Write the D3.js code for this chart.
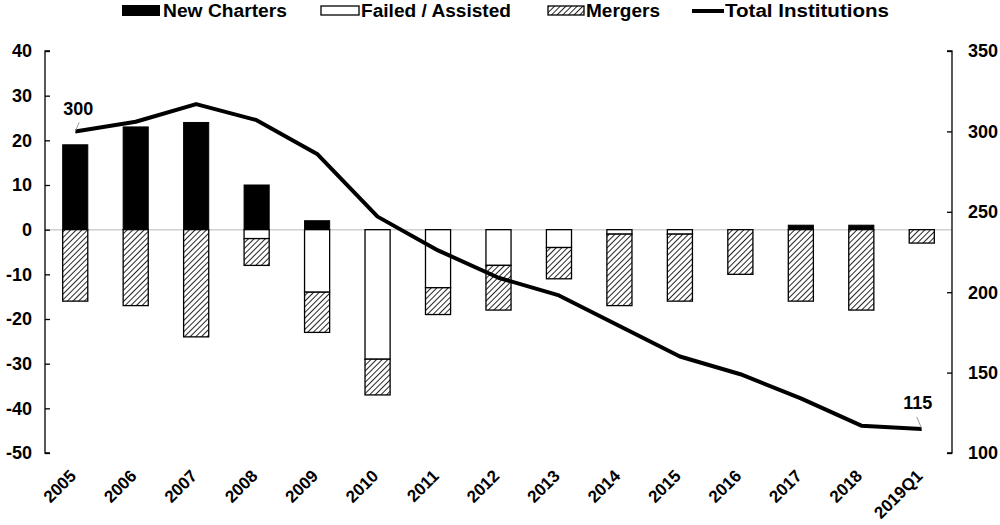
<!DOCTYPE html>
<html><head><meta charset="utf-8">
<script src="https://cdn.jsdelivr.net/npm/d3@7"></script>
<style>body{margin:0;background:#fff;} text{font-family:"Liberation Sans",Arial,sans-serif;font-weight:bold;}</style>
</head><body><svg id="c" width="1000" height="525"></svg>
<script>
const categories = ["2005","2006","2007","2008","2009","2010","2011","2012","2013","2014","2015","2016","2017","2018","2019Q1"];
const newCharters = [19,23,24,10,2,0,0,0,0,0,0,0,1,1,0];
const failedAssisted = [0,0,0,-2,-14,-29,-13,-8,-4,-1,-1,0,0,0,0];
const mergers = [-16,-17,-24,-6,-9,-8,-6,-10,-7,-16,-15,-10,-16,-18,-3];
const totalInstitutions = [300,306,317,307,286,247,226,209,198,179,160,149,134,117,115];
const leftTicks = [40,30,20,10,0,-10,-20,-30,-40,-50];
const rightTicks = [350,300,250,200,150,100];

const svg = d3.select("#c");
const L = 45, R = 952, T = 51, B = 453;
const x = d3.scaleBand().domain(categories).range([L, R]).paddingInner(0.585).paddingOuter(0.2925);
const y = d3.scaleLinear().domain([-50, 40]).range([B, T]);
const y2 = d3.scaleLinear().domain([100, 350]).range([B, T]);

const defs = svg.append("defs");
const pat = defs.append("pattern").attr("id","hatch").attr("patternUnits","userSpaceOnUse")
  .attr("width",4).attr("height",4).attr("patternTransform","rotate(45)");
pat.append("rect").attr("width",4).attr("height",4).attr("fill","#fff");
pat.append("line").attr("x1",0).attr("y1",0).attr("x2",0).attr("y2",4).attr("stroke","#000").attr("stroke-width",1.7);

// zero line
svg.append("line").attr("x1",L).attr("x2",R).attr("y1",y(0)).attr("y2",y(0)).attr("stroke","#d0d0d0").attr("stroke-width",1.5);

// bars
const g = svg.append("g");
g.selectAll(".nc").data(categories).join("rect")
  .attr("x",d=>x(d)).attr("width",x.bandwidth())
  .attr("y",(d,i)=>y(newCharters[i])).attr("height",(d,i)=>y(0)-y(newCharters[i]))
  .attr("fill","#000").attr("stroke","#000").attr("stroke-width",1)
  .style("display",(d,i)=>newCharters[i]===0?"none":null);
g.selectAll(".fa").data(categories).join("rect")
  .attr("x",d=>x(d)).attr("width",x.bandwidth())
  .attr("y",y(0)).attr("height",(d,i)=>y(failedAssisted[i])-y(0))
  .attr("fill","#fff").attr("stroke","#000").attr("stroke-width",1.3)
  .style("display",(d,i)=>failedAssisted[i]===0?"none":null);
g.selectAll(".mg").data(categories).join("rect")
  .attr("x",d=>x(d)).attr("width",x.bandwidth())
  .attr("y",(d,i)=>y(failedAssisted[i]))
  .attr("height",(d,i)=>y(failedAssisted[i]+mergers[i])-y(failedAssisted[i]))
  .attr("fill","url(#hatch)").attr("stroke","#000").attr("stroke-width",1.3);

// line
const line = d3.line().x((d,i)=>x(categories[i])+x.bandwidth()/2).y(d=>y2(d));
svg.append("path").datum(totalInstitutions).attr("d",line)
  .attr("fill","none").attr("stroke","#000").attr("stroke-width",4).attr("stroke-linejoin","round");

// axes
const ax = svg.append("g").attr("transform",`translate(${L},0)`)
  .call(d3.axisRight(y).tickValues(leftTicks).tickSize(5).tickFormat(""));
ax.select(".domain").attr("d",`M5,${T}H0V${B}H5`).attr("stroke","#000").attr("stroke-width",1.3);
ax.selectAll(".tick line").attr("stroke","#000").attr("stroke-width",1.3);
svg.append("g").selectAll("text").data(leftTicks).join("text")
  .attr("x",32).attr("y",d=>y(d)).attr("dy","0.35em").attr("text-anchor","end")
  .attr("font-size",18).text(d=>d);

const ax2 = svg.append("g").attr("transform",`translate(${R},0)`)
  .call(d3.axisLeft(y2).tickValues(rightTicks).tickSize(5).tickFormat(""));
ax2.select(".domain").attr("d",`M-5,${T}H0V${B}H-5`).attr("stroke","#000").attr("stroke-width",1.3);
ax2.selectAll(".tick line").attr("stroke","#000").attr("stroke-width",1.3);
svg.append("g").selectAll("text").data(rightTicks).join("text")
  .attr("x",968).attr("y",d=>y2(d)).attr("dy","0.35em").attr("text-anchor","start")
  .attr("font-size",18).text(d=>d);

// x labels
svg.append("g").selectAll("text").data(categories).join("text")
  .attr("transform",d=>`translate(${x(d)+x.bandwidth()/2+2},${477}) rotate(-45)`)
  .attr("text-anchor","end").attr("font-size",17).text(d=>d);

// annotations
const first = 0, last = categories.length-1;
const fx = x(categories[first])+x.bandwidth()/2, lx = x(categories[last])+x.bandwidth()/2;
svg.append("line").attr("x1",fx+4).attr("y1",y2(totalInstitutions[first])-9).attr("x2",fx).attr("y2",y2(totalInstitutions[first])).attr("stroke","#999").attr("stroke-width",1);
svg.append("text").attr("x",fx+3).attr("y",y2(totalInstitutions[first])-29).attr("dy","0.7em").attr("text-anchor","middle").attr("font-size",18).text(totalInstitutions[first]);
svg.append("line").attr("x1",lx-5).attr("y1",y2(totalInstitutions[last])-12).attr("x2",lx).attr("y2",y2(totalInstitutions[last])).attr("stroke","#999").attr("stroke-width",1);
svg.append("text").attr("x",lx-4).attr("y",y2(totalInstitutions[last])-32).attr("dy","0.7em").attr("text-anchor","middle").attr("font-size",18).text(totalInstitutions[last]);

// legend
const lg = svg.append("g");
lg.append("rect").attr("x",122).attr("y",5).attr("width",38).attr("height",11).attr("fill","#000");
lg.append("text").attr("x",163).attr("y",11).attr("dy","0.35em").attr("font-size",18).attr("textLength",124).attr("lengthAdjust","spacingAndGlyphs").text("New Charters");
lg.append("rect").attr("x",321).attr("y",6).attr("width",38).attr("height",9).attr("fill","#fff").attr("stroke","#000").attr("stroke-width",1.3);
lg.append("text").attr("x",361).attr("y",11).attr("dy","0.35em").attr("font-size",18).attr("textLength",150).attr("lengthAdjust","spacingAndGlyphs").text("Failed / Assisted");
lg.append("rect").attr("x",548).attr("y",6).attr("width",36).attr("height",9).attr("fill","url(#hatch)").attr("stroke","#000").attr("stroke-width",1.3);
lg.append("text").attr("x",586).attr("y",11).attr("dy","0.35em").attr("font-size",18).attr("textLength",74).attr("lengthAdjust","spacingAndGlyphs").text("Mergers");
lg.append("line").attr("x1",692).attr("x2",724).attr("y1",11).attr("y2",11).attr("stroke","#000").attr("stroke-width",4);
lg.append("text").attr("x",725).attr("y",11).attr("dy","0.35em").attr("font-size",18).attr("textLength",164).attr("lengthAdjust","spacingAndGlyphs").text("Total Institutions");
</script></body></html>
